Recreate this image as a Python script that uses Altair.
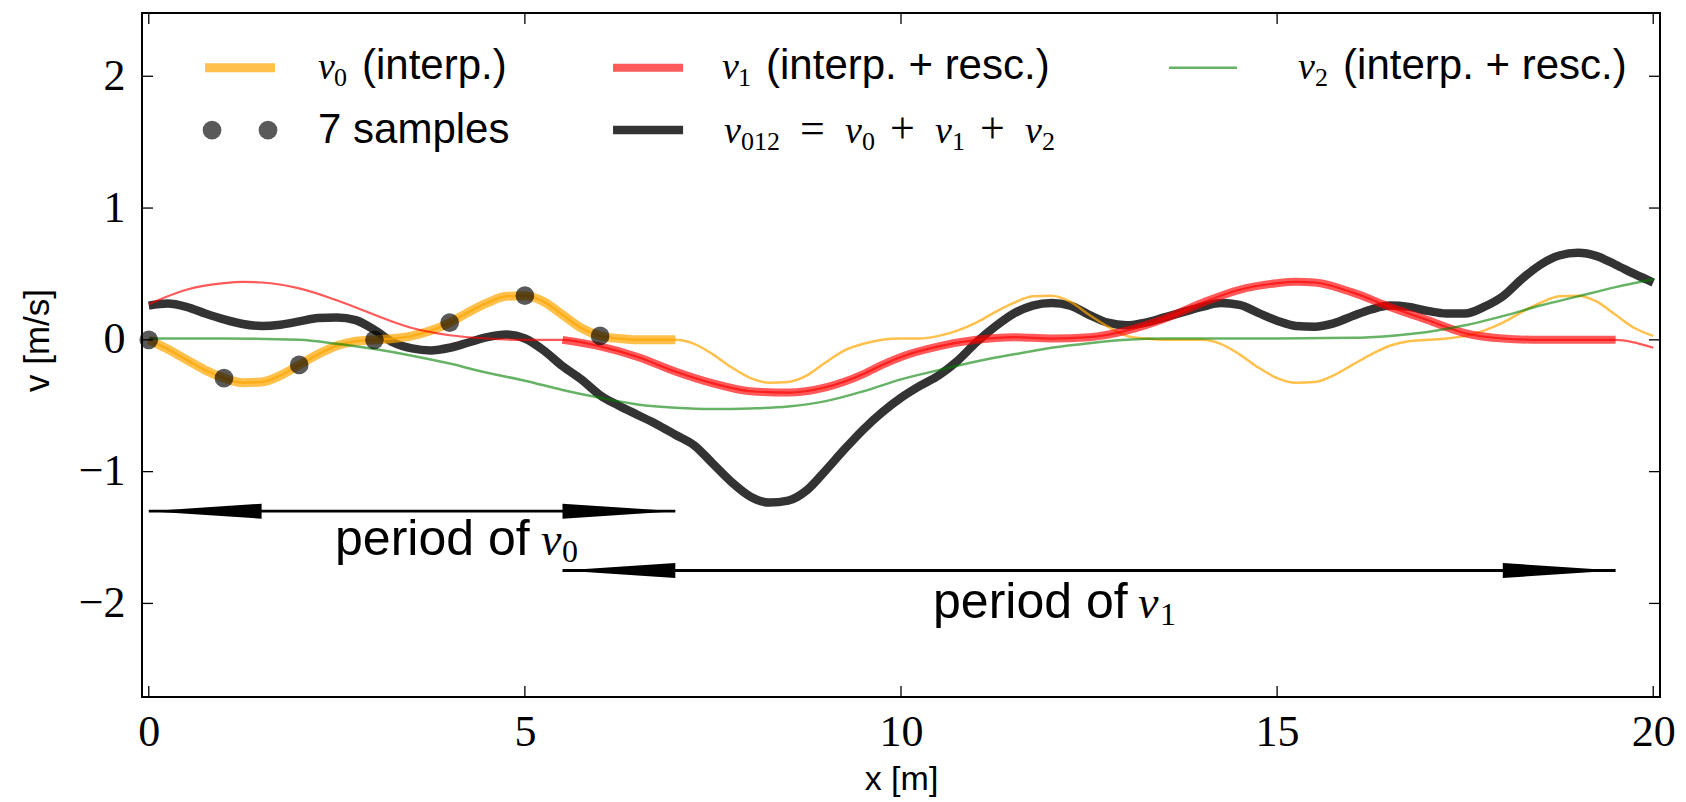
import altair as alt
import pandas as pd

# ---------------- values ----------------
# v0: interpolated signal over one period (thick part, x = 0 .. 7)
v0_x = [0.0, 0.25, 0.5, 0.75, 1.0, 1.25, 1.5, 1.75, 2.0, 2.25, 2.5, 2.75, 3.0, 3.25,
        3.5, 3.75, 4.0, 4.25, 4.5, 4.75, 5.0, 5.25, 5.5, 5.75, 6.0, 6.25, 6.5, 6.75, 7.0]
v0_y = [0.0, -0.07, -0.15, -0.23, -0.29, -0.325, -0.32, -0.27, -0.19, -0.11, -0.045, -0.01,
        0.0, 0.01, 0.03, 0.07, 0.13, 0.21, 0.28, 0.33, 0.335, 0.29, 0.19, 0.09, 0.03, 0.01,
        0.0, 0.0, 0.0]
# v0 thin continuation (x = 7.25 .. 20)
v0_tail_x = [7.25, 7.5, 7.75, 8.0, 8.25, 8.5, 8.75, 9.0, 9.25, 9.5, 9.75, 10.0, 10.25, 10.5,
             10.75, 11.0, 11.25, 11.5, 11.75, 12.0, 12.25, 12.5, 12.75, 13.0, 13.25, 13.5,
             13.75, 14.0, 14.25, 14.5, 14.75, 15.0, 15.25, 15.5, 15.75, 16.0, 16.25, 16.5,
             16.75, 17.0, 17.25, 17.5, 17.75, 18.0, 18.25, 18.5, 18.75, 19.0, 19.25, 19.5,
             19.75, 20.0]
v0_tail_y = [-0.03, -0.11, -0.21, -0.29, -0.325, -0.32, -0.27, -0.17, -0.08, -0.03, 0.0,
             0.01, 0.01, 0.03, 0.07, 0.13, 0.21, 0.28, 0.33, 0.335, 0.29, 0.19, 0.1, 0.03,
             0.01, 0.0, 0.0, 0.0, -0.03, -0.11, -0.21, -0.29, -0.325, -0.32, -0.27, -0.19,
             -0.11, -0.045, -0.01, 0.0, 0.01, 0.03, 0.07, 0.13, 0.21, 0.28, 0.33, 0.335,
             0.29, 0.19, 0.09, 0.03]
# the 7 samples
sample_x = [0, 1, 2, 3, 4, 5, 6]
sample_y = [0.0, -0.29, -0.19, 0.0, 0.13, 0.335, 0.03]
# v1 (red)
v1_x = [0.0, 0.5, 1.0, 1.25, 1.5, 2.0, 2.5, 3.0, 3.5, 4.0, 4.5, 5.0, 5.5, 6.0, 6.5, 7.0,
        7.5, 8.0, 8.5, 9.0, 9.5, 9.75, 10.0, 10.5, 11.0, 11.5, 12.0, 12.5, 13.0, 13.5, 14.0,
        14.5, 15.0, 15.25, 15.5, 16.0, 16.5, 17.0, 17.5, 18.0, 18.5, 19.0, 19.5, 20.0]
v1_y = [0.27, 0.38, 0.43, 0.44, 0.435, 0.39, 0.30, 0.19, 0.09, 0.035, 0.01, 0.0, 0.0, -0.05,
        -0.13, -0.24, -0.33, -0.39, -0.40, -0.36, -0.26, -0.19, -0.13, -0.05, 0.0, 0.02,
        0.01, 0.02, 0.07, 0.16, 0.28, 0.38, 0.43, 0.44, 0.435, 0.36, 0.25, 0.15, 0.05, 0.01,
        0.0, 0.0, 0.0, -0.06]
v1_period = [5.5, 19.5]
# v2 (green)
v2_x = [0.0, 1.0, 2.0, 2.5, 3.0, 3.5, 4.0, 4.5, 5.0, 5.5, 6.0, 6.5, 7.0, 7.5, 8.0, 8.5, 9.0,
        9.5, 10.0, 10.5, 11.0, 11.5, 12.0, 12.5, 13.0, 13.5, 14.0, 15.0, 16.0, 16.5, 17.0,
        17.5, 18.0, 18.5, 19.0, 19.5, 20.0]
v2_y = [0.01, 0.01, 0.0, -0.03, -0.07, -0.12, -0.18, -0.25, -0.31, -0.38, -0.44, -0.49,
        -0.515, -0.525, -0.52, -0.505, -0.465, -0.39, -0.3, -0.23, -0.165, -0.11, -0.06,
        -0.025, 0.0, 0.01, 0.01, 0.01, 0.015, 0.03, 0.06, 0.11, 0.18, 0.26, 0.33, 0.40, 0.46]
# v012 (black)
v012_x = [0.0, 0.25, 0.5, 0.75, 1.0, 1.25, 1.5, 1.75, 2.0, 2.25, 2.5, 2.75, 3.0, 3.25, 3.5,
          3.75, 4.0, 4.25, 4.5, 4.75, 5.0, 5.25, 5.5, 5.75, 6.0, 6.25, 6.5, 6.75, 7.0, 7.25,
          7.5, 7.75, 8.0, 8.25, 8.5, 8.75, 9.0, 9.25, 9.5, 9.75, 10.0, 10.25, 10.5, 10.75,
          11.0, 11.25, 11.5, 11.75, 12.0, 12.25, 12.5, 12.75, 13.0, 13.25, 13.5, 13.75, 14.0,
          14.25, 14.5, 14.75, 15.0, 15.25, 15.5, 15.75, 16.0, 16.25, 16.5, 16.75, 17.0,
          17.25, 17.5, 17.75, 18.0, 18.25, 18.5, 18.75, 19.0, 19.25, 19.5, 19.75, 20.0]
v012_y = [0.26, 0.275, 0.25, 0.2, 0.155, 0.12, 0.105, 0.115, 0.14, 0.165, 0.17, 0.15, 0.075,
          -0.02, -0.065, -0.08, -0.06, -0.02, 0.02, 0.04, 0.01, -0.08, -0.2, -0.3, -0.42,
          -0.5, -0.57, -0.64, -0.72, -0.8, -0.94, -1.08, -1.19, -1.235, -1.22, -1.14, -0.99,
          -0.83, -0.68, -0.55, -0.44, -0.35, -0.27, -0.16, -0.02, 0.1, 0.2, 0.26, 0.28, 0.26,
          0.19, 0.13, 0.11, 0.13, 0.17, 0.21, 0.25, 0.28, 0.265, 0.205, 0.145, 0.105, 0.1,
          0.125, 0.18, 0.23, 0.26, 0.25, 0.22, 0.2, 0.2, 0.25, 0.33, 0.46, 0.57, 0.64, 0.66,
          0.635, 0.57, 0.5, 0.435]

x_ticks = [0, 5, 10, 15, 20]
y_ticks = [-2, -1, 0, 1, 2]

# period arrows
arrow_start = [0.0, 5.5]
arrow_end = [7.0, 19.5]
arrow_level = [-1.3, -1.75]
HEAD_LEN = 1.5
HEAD_HALF = 0.057

# ---------------- layout (annotation positions in data units) ----------------
legend_lines = [  # item, x0, x1, y
    ("v0", 0.748, 1.678, 2.065),
    ("v1", 6.172, 7.103, 2.065),
    ("v2", 13.563, 14.467, 2.065),
    ("v012", 6.172, 7.103, 1.592),
]
legend_dots_x = [0.841, 1.585]
legend_dots_y = [1.592, 1.592]

texts = [  # style, x, y, text
    ("v_leg", 2.250, 1.979, "v"), ("sub_leg", 2.462, 1.926, "0"),
    ("sans_leg", 2.835, 1.979, "(interp.)"),
    ("v_leg", 7.621, 1.979, "v"), ("sub_leg", 7.833, 1.926, "1"),
    ("sans_leg", 8.206, 1.979, "(interp. + resc.)"),
    ("v_leg", 15.278, 1.979, "v"), ("sub_leg", 15.504, 1.926, "2"),
    ("sans_leg", 15.877, 1.979, "(interp. + resc.)"),
    ("sans_leg", 2.250, 1.494, "7 samples"),
    ("v_leg", 7.647, 1.494, "v"), ("sub_leg", 7.873, 1.440, "012"),
    ("op_leg", 8.658, 1.494, "="),
    ("v_leg", 9.256, 1.494, "v"), ("sub_leg", 9.482, 1.440, "0"),
    ("op_leg", 9.854, 1.494, "+"),
    ("v_leg", 10.452, 1.494, "v"), ("sub_leg", 10.679, 1.440, "1"),
    ("op_leg", 11.051, 1.494, "+"),
    ("v_leg", 11.649, 1.494, "v"), ("sub_leg", 11.876, 1.440, "2"),
    ("sans_per", 2.476, -1.633, "period of"),
    ("v_per", 5.214, -1.633, "v"), ("sub_per", 5.493, -1.686, "0"),
    ("sans_per", 10.426, -2.111, "period of"),
    ("v_per", 13.151, -2.111, "v"), ("sub_per", 13.444, -2.164, "1"),
]
text_styles = {
    "sans_leg": dict(font="Liberation Sans", fontSize=42),
    "v_leg": dict(font="Liberation Serif", fontSize=38, fontStyle="italic"),
    "sub_leg": dict(font="Liberation Serif", fontSize=26),
    "op_leg": dict(font="Liberation Serif", fontSize=44),
    "sans_per": dict(font="Liberation Sans", fontSize=50),
    "v_per": dict(font="Liberation Serif", fontSize=46, fontStyle="italic"),
    "sub_per": dict(font="Liberation Serif", fontSize=32),
}

line_styles = {
    "v0": dict(color="#FFA500", opacity=0.7, width=9),
    "v1": dict(color="#FF0000", opacity=0.65, width=8),
    "v2": dict(color="#008000", opacity=0.6, width=2.5),
    "v012": dict(color="#000000", opacity=0.8, width=8.5),
}

W, H = 1518, 684

# ---------------- tables ----------------
df_v0 = pd.DataFrame({"x": v0_x, "y": v0_y})
df_v0_thin = pd.DataFrame({"x": v0_x + v0_tail_x, "y": v0_y + v0_tail_y})
df_s = pd.DataFrame({"x": sample_x, "y": sample_y})
df_v1 = pd.DataFrame({"x": v1_x, "y": v1_y})
df_v2 = pd.DataFrame({"x": v2_x, "y": v2_y})
df_v012 = pd.DataFrame({"x": v012_x, "y": v012_y})
df_xt = pd.DataFrame({"t": x_ticks})
df_yt = pd.DataFrame({"t": y_ticks})

shaft_rows, head_rows = [], []
for i, (a, b, lev) in enumerate(zip(arrow_start, arrow_end, arrow_level)):
    shaft_rows.append({"x0": a, "x1": b, "y": lev})
    head_rows += [
        {"h": f"{i}L", "x": a, "lo": lev, "hi": lev},
        {"h": f"{i}L", "x": a + HEAD_LEN, "lo": lev - HEAD_HALF, "hi": lev + HEAD_HALF},
        {"h": f"{i}R", "x": b - HEAD_LEN, "lo": lev - HEAD_HALF, "hi": lev + HEAD_HALF},
        {"h": f"{i}R", "x": b, "lo": lev, "hi": lev},
    ]
df_shaft = pd.DataFrame(shaft_rows)
df_head = pd.DataFrame(head_rows)
df_leg = pd.DataFrame(legend_lines, columns=["item", "x0", "x1", "y"])
df_legdot = pd.DataFrame({"x": legend_dots_x, "y": legend_dots_y})
df_txt = pd.DataFrame(texts, columns=["style", "x", "y", "text"])

# ---------------- scales / axes ----------------
xs = alt.Scale(domain=[-0.09, 20.09], nice=False, zero=False)
ys = alt.Scale(domain=[-2.71, 2.48], nice=False, zero=False)

x_axis = alt.Axis(values=x_ticks, format="d", title="x [m]", grid=False, ticks=False,
                  domain=False, labelFont="Liberation Serif", labelFontSize=44,
                  labelColor="black", labelPadding=13, labelFlush=False, labelOverlap=False,
                  titleFont="Liberation Sans", titleFontSize=34, titleFontWeight="normal",
                  titleColor="black", titleX=759, titleY=82, titleBaseline="middle",
                  titleAlign="center")
y_axis = alt.Axis(values=y_ticks, format="d", title="v [m/s]", grid=False, ticks=False,
                  domain=False, labelFont="Liberation Serif", labelFontSize=44,
                  labelColor="black", labelPadding=17, labelFlush=False, labelOverlap=False,
                  titleFont="Liberation Sans", titleFontSize=35, titleFontWeight="normal",
                  titleColor="black", titleAngle=270, titleX=-105, titleY=327,
                  titleBaseline="middle", titleAlign="center")


def X(f="x"):
    return alt.X(f"{f}:Q", scale=xs, axis=x_axis)


def Y(f="y"):
    return alt.Y(f"{f}:Q", scale=ys, axis=y_axis)


def curve(df, key, width=None):
    st = line_styles[key]
    return alt.Chart(df).mark_line(color=st["color"], opacity=st["opacity"],
                                   strokeWidth=width or st["width"],
                                   interpolate="monotone", strokeJoin="round", clip=True)


layers = []
# black sum curve
layers.append(curve(df_v012, "v012").encode(x=X(), y=Y()))
# v0 thin + thick
layers.append(curve(df_v0_thin, "v0", 2.5).encode(x=X(), y=Y()))
layers.append(curve(df_v0, "v0").encode(x=X(), y=Y()))
# v1 thin + thick over its period
layers.append(curve(df_v1, "v1", 2.2).encode(x=X(), y=Y()))
layers.append(curve(df_v1, "v1").transform_filter(
    (alt.datum.x >= v1_period[0]) & (alt.datum.x <= v1_period[1])).encode(x=X(), y=Y()))
# v2
layers.append(curve(df_v2, "v2").encode(x=X(), y=Y()))
# samples
layers.append(alt.Chart(df_s).mark_circle(size=350, color="#000000", opacity=0.65)
              .encode(x=X(), y=Y()))

# arrows
layers.append(alt.Chart(df_shaft).mark_rule(color="black", strokeWidth=2.8)
              .encode(x=X("x0"), x2="x1:Q", y=Y()))
layers.append(alt.Chart(df_head).mark_area(color="black", opacity=1, interpolate="linear")
              .encode(x=X(), y=Y("lo"), y2="hi:Q", detail="h:N"))

# legend swatches
for key in ["v0", "v1", "v2", "v012"]:
    st = line_styles[key]
    layers.append(alt.Chart(df_leg).transform_filter(alt.datum.item == key)
                  .mark_rule(color=st["color"], opacity=st["opacity"], strokeWidth=st["width"])
                  .encode(x=X("x0"), x2="x1:Q", y=Y()))
layers.append(alt.Chart(df_legdot).mark_circle(size=350, color="#000000", opacity=0.65)
              .encode(x=X(), y=Y()))

# texts
for sname, st in text_styles.items():
    layers.append(alt.Chart(df_txt).transform_filter(alt.datum.style == sname)
                  .mark_text(align="left", baseline="alphabetic", color="black", **st)
                  .encode(x=X(), y=Y(), text="text:N"))

# inward ticks on all four sides
tk = dict(color="black", strokeWidth=1.3)
layers.append(alt.Chart(df_xt).mark_rule(**tk).encode(
    x=X("t"), y=alt.value(H), y2=alt.value(H - 11)))
layers.append(alt.Chart(df_xt).mark_rule(**tk).encode(
    x=X("t"), y=alt.value(0), y2=alt.value(11)))
layers.append(alt.Chart(df_yt).mark_rule(**tk).encode(
    y=Y("t"), x=alt.value(0), x2=alt.value(11)))
layers.append(alt.Chart(df_yt).mark_rule(**tk).encode(
    y=Y("t"), x=alt.value(W), x2=alt.value(W - 11)))

chart = (
    alt.layer(*layers)
    .properties(width=W, height=H, autosize=alt.AutoSizeParams(type="none"),
                padding={"left": 142, "top": 13, "right": 26, "bottom": 105},
                background="white")
    .configure_view(stroke="black", strokeWidth=2)
)

chart.save("out.html", embed_options={"renderer": "svg", "actions": False})
